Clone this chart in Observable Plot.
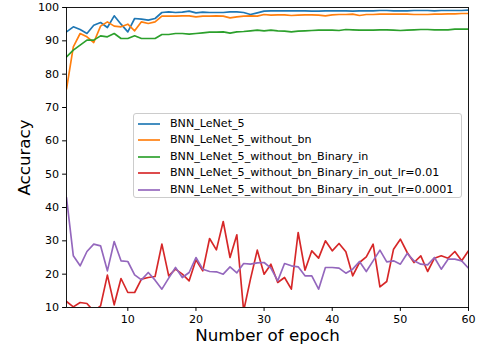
<!DOCTYPE html>
<html><head><meta charset="utf-8">
<script src="https://cdn.jsdelivr.net/npm/d3@7"></script>
<script src="https://cdn.jsdelivr.net/npm/@observablehq/plot@0.6"></script>
<style>
body{margin:0;background:#fff;}
#wrap{position:relative;width:478px;height:351px;font-family:"DejaVu Sans",sans-serif;}
#legend{position:absolute;left:133px;top:113px;width:329px;height:85px;border:1px solid #cccccc;border-radius:3px;background:rgba(255,255,255,0.8);box-sizing:border-box;}
.row{position:absolute;left:0;height:16px;font-size:11.1px;color:#000;white-space:nowrap;}
.row svg{position:absolute;left:4px;top:0;}
.row span{position:absolute;left:36px;top:0;line-height:16px;}
</style>
</head><body>
<div id="wrap"><div id="chart"></div><div id="legend"></div></div>
<script>
const epochs = d3.range(1, 61);
const xTicks = [10, 20, 30, 40, 50, 60];
const yTicks = [10, 20, 30, 40, 50, 60, 70, 80, 90, 100];
const names = [
  "BNN_LeNet_5",
  "BNN_LeNet_5_without_bn",
  "BNN_LeNet_5_without_bn_Binary_in",
  "BNN_LeNet_5_without_bn_Binary_in_out_lr=0.01",
  "BNN_LeNet_5_without_bn_Binary_in_out_lr=0.0001"
];
const colors = ["#1f77b4", "#ff7f0e", "#2ca02c", "#d62728", "#9467bd"];

const bnn = [92.7,94.2,93.4,92.2,94.7,95.5,94.0,97.5,95.0,92.7,96.7,96.5,96.2,96.7,98.5,98.7,98.5,98.6,98.9,98.4,98.6,98.5,98.5,98.5,98.7,98.7,98.5,97.9,98.4,98.9,
  99.0,99.0,99.0,99.0,99.0,99.0,98.9,98.9,99.0,99.0,99.0,99.0,98.9,99.0,99.0,99.0,99.1,99.1,99.0,99.0,99.0,99.1,99.1,99.1,99.0,99.1,99.1,99.1,99.1,99.2];
const noBn = [75.5,88.2,92.2,91.2,89.5,94.4,95.7,94.4,94.2,95.0,93.0,95.7,95.2,95.7,97.4,97.4,97.4,97.5,97.5,97.2,97.4,97.4,97.5,97.4,96.9,97.2,97.4,97.5,97.4,97.9,
  97.7,97.8,97.8,97.6,97.7,97.8,97.8,97.7,97.5,97.8,97.9,97.9,98.0,97.6,97.9,97.9,98.0,98.0,98.0,98.0,98.0,97.9,97.9,97.9,98.0,98.0,98.1,98.1,98.2,98.2];
const binIn = [85.2,87.2,88.7,90.2,90.2,91.5,91.2,92.2,90.7,90.7,91.5,90.7,90.7,90.7,91.9,91.9,92.2,92.2,92.0,92.2,92.4,92.6,92.6,92.7,92.3,92.7,92.8,93.0,93.2,93.0,
  93.2,93.0,92.9,92.7,92.9,93.0,93.1,93.2,93.2,93.2,93.1,93.4,93.3,93.2,93.2,93.2,93.3,93.3,93.2,93.1,93.2,93.3,93.4,93.4,93.3,93.3,93.3,93.5,93.5,93.5];
const lr001 = [11.8,10.2,11.5,11.2,8.9,10.5,19.7,10.8,18.7,14.5,14.5,18.5,19.0,19.3,29.0,19.5,21.5,20.0,18.0,24.3,21.0,30.7,27.3,35.8,25.0,31.8,9.0,18.5,27.2,20.0,
  23.0,17.5,19.0,15.5,32.5,21.2,27.0,24.8,30.0,27.0,29.2,26.7,19.5,23.5,25.2,29.0,16.2,17.8,27.5,30.5,26.5,23.5,25.5,20.8,24.8,25.5,24.8,26.8,24.0,27.0];
const lr00001 = [43.0,25.5,22.5,26.8,29.0,28.5,21.0,29.8,24.0,23.8,19.8,18.3,20.5,18.2,15.5,18.8,22.0,19.0,20.5,25.0,21.5,20.8,20.7,20.0,22.2,20.4,23.2,23.0,23.4,23.5,
  21.8,18.0,23.2,22.5,22.2,19.5,19.5,15.5,22.0,22.0,21.8,20.3,21.5,23.8,20.8,24.0,27.2,23.7,24.0,23.0,26.2,24.0,23.0,22.8,25.0,21.5,24.5,24.5,24.0,21.8];

const seriesValues = [bnn, noBn, binIn, lr001, lr00001];
const data = seriesValues.flatMap((vals, s) => vals.map((v, i) => ({epoch: epochs[i], acc: v, name: names[s]})));

const chart = Plot.plot({
  width: 478, height: 351,
  marginLeft: 66, marginRight: 10, marginTop: 7, marginBottom: 44,
  style: {fontFamily: "DejaVu Sans", fontSize: "11.1px", background: "white", color: "black", overflow: "visible"},
  x: {domain: [1, 60]},
  y: {domain: [10, 100]},
  color: {domain: names, range: colors},
  marks: [
    Plot.line(data, {x: "epoch", y: "acc", z: "name", stroke: "name", strokeWidth: 1.67, clip: true}),
    Plot.frame({stroke: "black", strokeWidth: 0.9}),
    Plot.axisX({ticks: xTicks, tickSize: 3.9, tickPadding: 3.5, label: null, fontSize: 11.1}),
    Plot.axisY({ticks: yTicks, tickSize: 3.9, tickPadding: 3.5, label: null, fontSize: 11.1}),
    Plot.text(["Number of epoch"], {frameAnchor: "bottom", lineAnchor: "middle", textAnchor: "middle", dy: 27.7, fontSize: 16.7, fill: "black"}),
    Plot.text(["Accuracy"], {frameAnchor: "left", lineAnchor: "middle", textAnchor: "middle", rotate: -90, dx: -42, fontSize: 16.7, fill: "black"})
  ]
});
document.getElementById("chart").appendChild(chart);

const legend = document.getElementById("legend");
const rowTops = [1.5, 18.1, 34.6, 51.2, 67.8];
names.forEach((n, i) => {
  const row = document.createElement("div");
  row.className = "row";
  row.style.top = rowTops[i] + "px";
  row.innerHTML = `<svg width="24" height="16"><line x1="0" x2="22" y1="8" y2="8" stroke="${colors[i]}" stroke-width="1.67"/></svg><span>${n}</span>`;
  legend.appendChild(row);
});
</script>
</body></html>
